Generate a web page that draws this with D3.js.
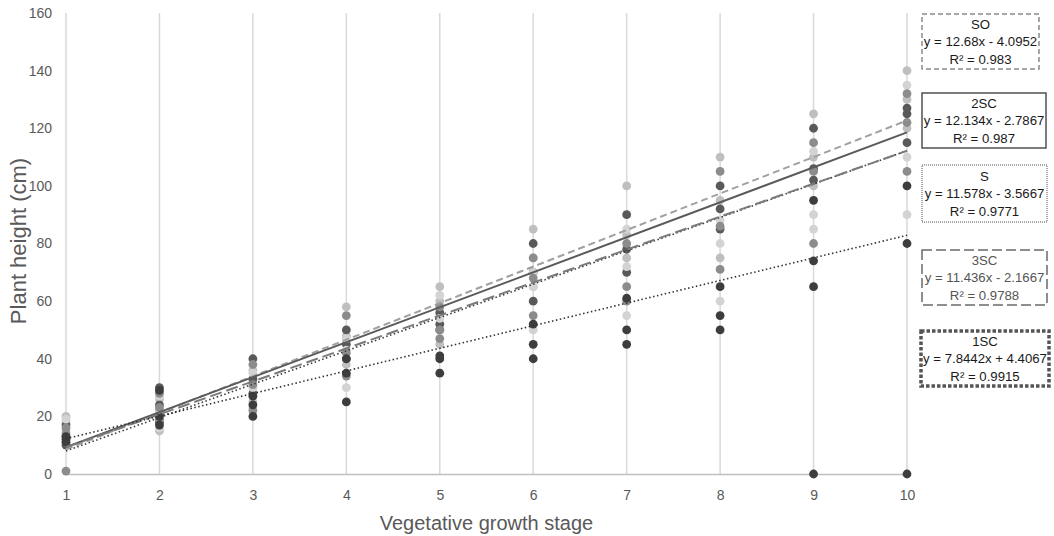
<html>
<head>
<style>
  body { margin: 0; background: #ffffff; font-family: "Liberation Sans", Arial, sans-serif; }
  svg { display: block; }
</style>
<script src="https://cdn.jsdelivr.net/npm/d3@7"></script>
</head>
<body>
<svg id="grafico"></svg>
<script>
// stages on the x axis and y ticks
let etapas = [1, 2, 3, 4, 5, 6, 7, 8, 9, 10];
let ticksY = [0, 20, 40, 60, 80, 100, 120, 140, 160];

// series names (legend order) and their trendline equations
let series = ["SO", "2SC", "S", "3SC", "1SC"];
let pendientes = [12.68, 12.134, 11.578, 11.436, 7.8442];
let intercepciones = [-4.0952, -2.7867, -3.5667, -2.1667, 4.4067];
let r2 = ["0.983", "0.987", "0.9771", "0.9788", "0.9915"];

// plant heights per stage (replicates) for each series
let alturasSO  = [[20, 18, 12], [26, 22, 15], [36, 32, 25], [58, 48, 38], [65, 60, 45], [85, 75, 65], [100, 83, 75], [110, 95, 75], [125, 110, 100], [140, 130, 120]];
let alturas2SC = [[17, 13, 10], [30, 24, 18], [40, 33, 28], [50, 45, 40], [56, 52, 50], [80, 70, 60], [90, 78, 70], [100, 92, 85], [120, 106, 102], [127, 125, 115]];
let alturasS   = [[19, 15, 11], [27, 21, 16], [35, 30, 23], [47, 43, 30], [62, 54, 40], [70, 65, 50], [85, 72, 55], [88, 80, 60], [112, 90, 85], [135, 110, 90]];
let alturas3SC = [[16, 14, 1], [28, 23, 19], [38, 31, 22], [55, 42, 34], [58, 50, 47], [75, 68, 55], [80, 65, 60], [105, 86, 71], [115, 105, 80], [132, 122, 105]];
let alturas1SC = [[13, 12, 11], [29, 20, 17], [27, 24, 20], [40, 35, 25], [41, 40, 35], [52, 45, 40], [61, 50, 45], [65, 55, 50], [95, 74, 65, 0], [100, 80, 0]];

let alturas = [alturasSO, alturas2SC, alturasS, alturas3SC, alturas1SC];

// styles per series
let colorPunto = ["#bfbfbf", "#595959", "#d3d3d3", "#8c8c8c", "#3d3d3d"];
let estiloLinea = [
  { color: "#a0a0a0", ancho: 2,   guion: "7,4" },
  { color: "#5a5a5a", ancho: 2,   guion: null },
  { color: "#3a3a3a", ancho: 1.6, guion: "1.5,2.5" },
  { color: "#7a7a7a", ancho: 2,   guion: "12,5" },
  { color: "#333333", ancho: 1.6, guion: "1.5,2.5" }
];
let estiloCaja = [
  { color: "#8a8a8a", ancho: 1.5, guion: "5,3", top: 14, bottom: 69, left: 922, right: 1039, texto: "#1a1a1a" },
  { color: "#505050", ancho: 1.5, guion: null, top: 93, bottom: 148, left: 922, right: 1046, texto: "#1a1a1a" },
  { color: "#505050", ancho: 1,   guion: "1,1", top: 165, bottom: 222, left: 922, right: 1047, texto: "#1a1a1a" },
  { color: "#6a6a6a", ancho: 1.5, guion: "10,4", top: 250, bottom: 305, left: 922, right: 1047, texto: "#555555" },
  { color: "#555555", ancho: 3.5, guion: "3.5,2", top: 331, bottom: 386, left: 921, right: 1049, texto: "#1a1a1a" }
];

let ancho = 1054, alto = 536;
let margenes = { top: 13, bottom: 62, left: 66, right: 147 };

let contenedor = d3.select("#grafico").attr("width", ancho).attr("height", alto);

let escalaX = d3.scaleLinear().domain([1, 10]).range([margenes.left, ancho - margenes.right]);
let escalaY = d3.scaleLinear().domain([0, 160]).range([alto - margenes.bottom, margenes.top]);

// vertical gridlines
contenedor.append("g").selectAll("line")
  .data(etapas)
  .enter().append("line")
    .attr("x1", d => escalaX(d)).attr("x2", d => escalaX(d))
    .attr("y1", escalaY(160)).attr("y2", escalaY(0))
    .attr("stroke", "#d9d9d9").attr("stroke-width", 1.5);

// x axis
let ejeX = d3.axisBottom(escalaX).tickValues(etapas).tickSize(0).tickPadding(16).tickFormat(d3.format("d"));
let gX = contenedor.append("g")
  .attr("transform", `translate(0,${escalaY(0)})`)
  .call(ejeX);
gX.select(".domain").attr("stroke", "#bfbfbf").attr("stroke-width", 1.5);
gX.selectAll("text").attr("fill", "#595959").style("font-size", "14px").style("font-family", "Liberation Sans, Arial, sans-serif");

// y axis (labels only)
let ejeY = d3.axisLeft(escalaY).tickValues(ticksY).tickSize(0).tickPadding(14);
let gY = contenedor.append("g")
  .attr("transform", `translate(${margenes.left},0)`)
  .call(ejeY);
gY.select(".domain").remove();
gY.selectAll("text").attr("fill", "#595959").style("font-size", "14px").style("font-family", "Liberation Sans, Arial, sans-serif");

// points
series.forEach((s, i) => {
  let puntos = [];
  alturas[i].forEach((valores, j) => valores.forEach(v => puntos.push({ x: etapas[j], y: v })));
  contenedor.append("g").selectAll("circle")
    .data(puntos)
    .enter().append("circle")
      .attr("cx", d => escalaX(d.x))
      .attr("cy", d => escalaY(d.y))
      .attr("r", 4.4)
      .attr("fill", colorPunto[i]);
});

// trendlines
let linea = d3.line().x(d => escalaX(d[0])).y(d => escalaY(d[1]));
series.forEach((s, i) => {
  let extremos = [1, 10].map(x => [x, pendientes[i] * x + intercepciones[i]]);
  let est = estiloLinea[i];
  contenedor.append("path")
    .attr("d", linea(extremos))
    .attr("fill", "none")
    .attr("stroke", est.color)
    .attr("stroke-width", est.ancho)
    .attr("stroke-dasharray", est.guion);
});

// equation boxes
series.forEach((s, i) => {
  let c = estiloCaja[i];
  let g = contenedor.append("g");
  g.append("rect")
    .attr("x", c.left).attr("y", c.top)
    .attr("width", c.right - c.left).attr("height", c.bottom - c.top)
    .attr("fill", "#ffffff")
    .attr("stroke", c.color).attr("stroke-width", c.ancho)
    .attr("stroke-dasharray", c.guion);
  let signo = intercepciones[i] < 0 ? "- " : "+ ";
  let lineas = [s, `y = ${pendientes[i]}x ${signo}${Math.abs(intercepciones[i])}`, `R² = ${r2[i]}`];
  let cx = (c.left + c.right) / 2, cy = (c.top + c.bottom) / 2;
  lineas.forEach((t, k) => {
    g.append("text")
      .attr("x", cx).attr("y", cy + (k - 1) * 17.5)
      .attr("dy", "0.35em")
      .attr("text-anchor", "middle")
      .attr("fill", c.texto)
      .style("font-size", "13.2px")
      .text(t);
  });
});

// axis titles
contenedor.append("text")
  .attr("transform", `translate(26,241) rotate(-90)`)
  .attr("text-anchor", "middle")
  .attr("fill", "#595959")
  .style("font-size", "22px")
  .text("Plant height (cm)");

contenedor.append("text")
  .attr("x", (escalaX(1) + escalaX(10)) / 2)
  .attr("y", 530)
  .attr("text-anchor", "middle")
  .attr("fill", "#595959")
  .style("font-size", "20px")
  .text("Vegetative growth stage");
</script>
</body>
</html>
